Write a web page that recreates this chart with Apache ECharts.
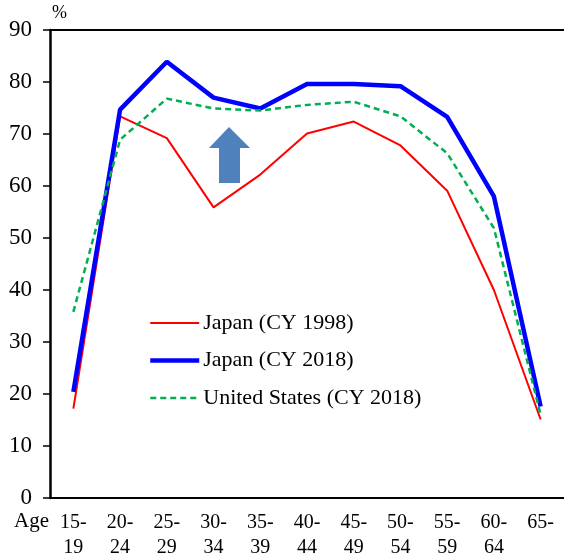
<!DOCTYPE html>
<html>
<head>
<meta charset="utf-8">
<script src="https://cdn.jsdelivr.net/npm/echarts@6/dist/echarts.min.js"></script>
<style>
  html, body { margin: 0; padding: 0; background: #fff; }
  #chart { width: 564px; height: 553px; }
</style>
</head>
<body>
<div id="chart"></div>
<script>
// age groups
var ages = ["15-\n19", "20-\n24", "25-\n29", "30-\n34", "35-\n39", "40-\n44",
  "45-\n49", "50-\n54", "55-\n59", "60-\n64", "65-"];
// labour force participation rate (%)
var japan1998 = [17.2, 73.4, 69.2, 55.9, 62.2, 70.1, 72.4, 67.8, 59.1, 40.0, 15.1];
var japan2018 = [20.4, 74.7, 83.9, 77.0, 74.9, 79.6, 79.6, 79.2, 73.3, 58.0, 17.6];
var us2018 = [35.8, 68.9, 76.8, 74.9, 74.5, 75.6, 76.2, 73.4, 66.3, 51.9, 16.0];
var yTicks = [0, 10, 20, 30, 40, 50, 60, 70, 80, 90];

var font = "'Liberation Serif', 'Times New Roman', serif";

var chart = echarts.init(document.getElementById("chart"));

chart.setOption({
  backgroundColor: "#fff",
  animation: false,
  textStyle: { fontFamily: font, color: "#000" },
  grid: { left: 50, right: 0, top: 30, bottom: 55, outerBoundsMode: "none", containLabel: false },
  legend: {
    orient: "vertical",
    left: 148,
    top: 312,
    padding: 0,
    itemWidth: 49,
    itemHeight: 22,
    itemGap: 15.5,
    itemStyle: { opacity: 0 },
    textStyle: { fontFamily: font, fontSize: 22, color: "#000", padding: [0, 0, 0, -1] },
    data: [
      { name: "Japan (CY 1998)", lineStyle: { width: 2 } },
      { name: "Japan (CY 2018)", lineStyle: { width: 4.5 } },
      { name: "United States (CY 2018)", lineStyle: { width: 2.5 } }
    ]
  },
  xAxis: [
    {
      type: "category",
      data: ages,
      boundaryGap: true,
      axisLine: { lineStyle: { color: "#000", width: 2 } },
      axisTick: { inside: true, length: 6, lineStyle: { color: "#000", width: 1.5 } },
      axisLabel: { fontFamily: font, fontSize: 20, color: "#000", margin: 12, lineHeight: 25, interval: 0 }
    },
    {
      // top border
      type: "category",
      position: "top",
      data: ages,
      axisLine: { lineStyle: { color: "#000", width: 2 } },
      axisTick: { show: false },
      axisLabel: { show: false }
    }
  ],
  yAxis: {
    type: "value",
    min: yTicks[0],
    max: yTicks[yTicks.length - 1],
    interval: 10,
    name: "%",
    nameGap: 8,
    nameTextStyle: { fontFamily: font, fontSize: 18, color: "#000", align: "left", padding: [0, 0, 0, 2] },
    splitLine: { show: false },
    axisLine: { show: true, lineStyle: { color: "#000", width: 2.5 } },
    axisTick: { show: true, length: 7, lineStyle: { color: "#000", width: 1.5 } },
    axisLabel: { fontFamily: font, fontSize: 23, color: "#000", margin: 18 }
  },
  graphic: [
    {
      type: "text",
      left: 14,
      top: 511,
      style: { text: "Age", font: "21px " + font, fill: "#000" }
    },
    {
      // blue up arrow
      type: "polygon",
      shape: {
        points: [[229, 127], [250, 148], [240, 148], [240, 183], [219, 183], [219, 148], [209, 148]]
      },
      style: { fill: "#4f81bd" }
    }
  ],
  series: [
    {
      name: "Japan (CY 1998)",
      type: "line",
      data: japan1998,
      symbol: "none",
      lineStyle: { color: "#ff0000", width: 2 },
      itemStyle: { color: "#ff0000" }
    },
    {
      name: "Japan (CY 2018)",
      type: "line",
      data: japan2018,
      symbol: "none",
      lineStyle: { color: "#0000ff", width: 4.5 },
      itemStyle: { color: "#0000ff" }
    },
    {
      name: "United States (CY 2018)",
      type: "line",
      data: us2018,
      symbol: "none",
      lineStyle: { color: "#00b050", width: 2.5, type: [6, 4] },
      itemStyle: { color: "#00b050" }
    }
  ]
});
</script>
</body>
</html>
